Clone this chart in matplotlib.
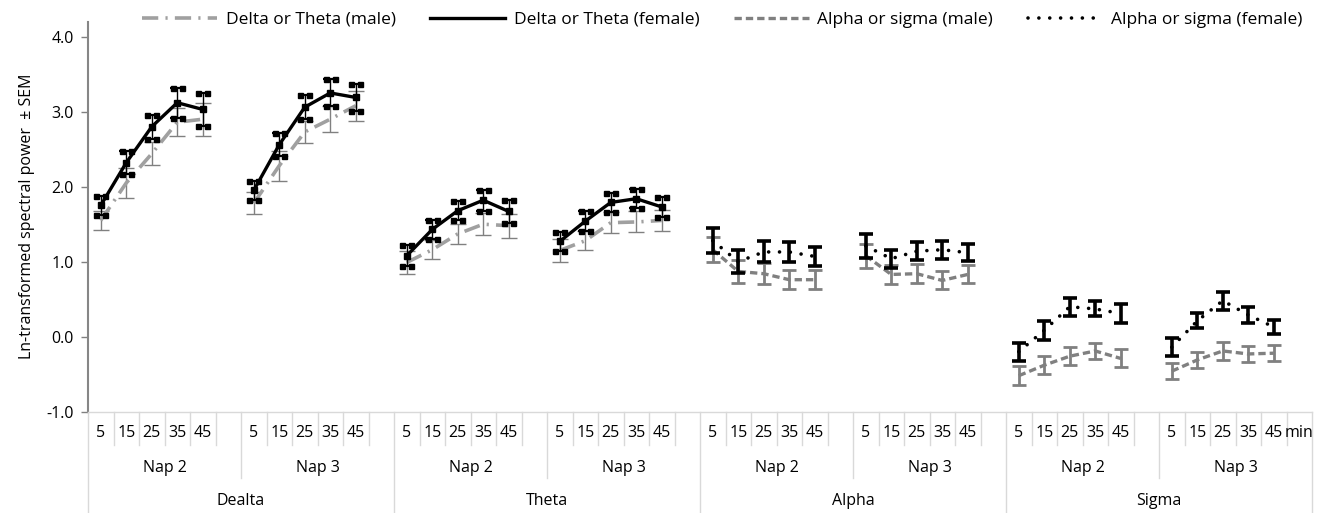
import numpy as np
import matplotlib
matplotlib.use("Agg")
import matplotlib.pyplot as plt
from matplotlib.transforms import blended_transform_factory
from matplotlib.lines import Line2D

plt.rcParams['font.family'] = ['Open Sans', 'DejaVu Sans']

# ---------------- data ----------------
minutes = ["5", "15", "25", "35", "45"]
naps = ["Nap 2", "Nap 3"]
bands = ["Dealta", "Theta", "Alpha", "Sigma"]
unit_label = "min"

# Delta / Theta groups: Dealta-Nap2, Dealta-Nap3, Theta-Nap2, Theta-Nap3
dt_male = [[1.55, 2.05, 2.44, 2.86, 2.90],
           [1.78, 2.28, 2.73, 2.90, 3.08],
           [0.99, 1.16, 1.37, 1.50, 1.48],
           [1.15, 1.28, 1.52, 1.53, 1.55]]
dt_male_sem = [[0.13, 0.20, 0.15, 0.19, 0.22],
               [0.15, 0.20, 0.15, 0.17, 0.20],
               [0.15, 0.13, 0.13, 0.15, 0.16],
               [0.15, 0.13, 0.14, 0.14, 0.14]]
dt_female = [[1.75, 2.32, 2.80, 3.12, 3.03],
             [1.95, 2.56, 3.06, 3.25, 3.19],
             [1.08, 1.43, 1.68, 1.82, 1.67],
             [1.27, 1.54, 1.79, 1.84, 1.73]]
dt_female_sem = [[0.13, 0.15, 0.16, 0.20, 0.22],
                 [0.13, 0.15, 0.16, 0.18, 0.18],
                 [0.14, 0.13, 0.13, 0.14, 0.15],
                 [0.13, 0.13, 0.13, 0.13, 0.13]]
# Alpha / Sigma groups: Alpha-Nap2, Alpha-Nap3, Sigma-Nap2, Sigma-Nap3
as_male = [[1.16, 0.87, 0.84, 0.76, 0.76],
           [1.08, 0.83, 0.84, 0.75, 0.83],
           [-0.52, -0.38, -0.26, -0.19, -0.29],
           [-0.46, -0.31, -0.19, -0.23, -0.22]]
as_male_sem = [[0.17, 0.15, 0.14, 0.13, 0.13],
               [0.16, 0.13, 0.13, 0.12, 0.12],
               [0.125, 0.12, 0.12, 0.11, 0.12],
               [0.11, 0.11, 0.12, 0.11, 0.11]]
as_female = [[1.28, 1.00, 1.13, 1.13, 1.07],
             [1.21, 1.04, 1.14, 1.16, 1.12],
             [-0.20, 0.085, 0.40, 0.37, 0.31],
             [-0.14, 0.21, 0.48, 0.29, 0.13]]
as_female_sem = [[0.17, 0.15, 0.14, 0.13, 0.13],
                 [0.16, 0.12, 0.12, 0.12, 0.11],
                 [0.12, 0.125, 0.12, 0.10, 0.13],
                 [0.12, 0.10, 0.12, 0.11, 0.09]]

series_labels = ["Delta or Theta (male)", "Delta or Theta (female)",
                 "Alpha or sigma (male)", "Alpha or sigma (female)"]

# ---------------- layout helpers ----------------
n_per_nap = len(minutes) + 1
n_groups = len(bands) * len(naps)
n_cat = n_groups * n_per_nap


def full_series(groups, first_group):
    arr = np.full(n_cat, np.nan)
    for k, vals in enumerate(groups):
        g = first_group + k
        arr[g * n_per_nap: g * n_per_nap + len(vals)] = vals
    return arr


x = np.arange(n_cat)
y_dtm = full_series(dt_male, 0); e_dtm = full_series(dt_male_sem, 0)
y_dtf = full_series(dt_female, 0); e_dtf = full_series(dt_female_sem, 0)
y_asm = full_series(as_male, 4); e_asm = full_series(as_male_sem, 4)
y_asf = full_series(as_female, 4); e_asf = full_series(as_female_sem, 4)

FS = 11.5
FS_LEG = 12.5

fig = plt.figure(figsize=(13.22, 5.13), dpi=100)
ax = fig.add_axes([88 / 1322, 1 - 411.7 / 513, 1224 / 1322, 390 / 513])

light_gray = '#A0A0A0'
mid_gray = '#808080'

# Delta/Theta male
ax.errorbar(x, y_dtm, yerr=e_dtm, fmt='none', ecolor=mid_gray, elinewidth=1.0,
            capsize=6, capthick=1.0, zorder=2)
ax.plot(x, y_dtm, color=light_gray, lw=2.6, dashes=[4.5, 2, 0.6, 2],
        label=series_labels[0], zorder=3)

# Delta/Theta female
ax.errorbar(x, y_dtf, yerr=e_dtf, fmt='none', ecolor='black', elinewidth=1.0,
            capsize=5, capthick=1.6, zorder=4)
for dx in (-0.17, 0.17):
    ax.plot(x + dx, y_dtf + e_dtf, ls='none', marker='s', ms=3.6, color='black', zorder=5)
    ax.plot(x + dx, y_dtf - e_dtf, ls='none', marker='s', ms=3.6, color='black', zorder=5)
ax.plot(x, y_dtf, color='black', lw=2.4, label=series_labels[1], zorder=5)
ax.plot(x, y_dtf, ls='none', marker='s', ms=4, color='black', zorder=6)

# Alpha/Sigma male
ax.errorbar(x, y_asm, yerr=e_asm, fmt='none', ecolor=mid_gray, elinewidth=2.0,
            capsize=5, capthick=2.0, zorder=2)
ax.plot(x, y_asm, color=mid_gray, lw=2.4, dashes=[2.2, 1.2],
        label=series_labels[2], zorder=3)

# Alpha/Sigma female
ax.errorbar(x, y_asf, yerr=e_asf, fmt='none', ecolor='black', elinewidth=2.6,
            capsize=5, capthick=2.6, zorder=4)
ax.plot(x, y_asf, color='black', lw=2.6, linestyle=(0, (0.01, 3.0)),
        dash_capstyle='round', label=series_labels[3], zorder=5)

# ---------------- axes styling ----------------
ax.set_xlim(-0.5, n_cat - 0.5)
ax.set_ylim(-1.0, 4.2)
ax.set_yticks([-1, 0, 1, 2, 3, 4])
ax.set_yticklabels([f"{v:.1f}" for v in [-1, 0, 1, 2, 3, 4]], fontsize=FS)
ax.tick_params(axis='y', length=5, width=1, color=mid_gray, pad=5)
ax.set_xticks([])
for s in ['top', 'right']:
    ax.spines[s].set_visible(False)
ax.spines['left'].set_color('#868686')
ax.spines['left'].set_linewidth(1.5)
ax.spines['bottom'].set_color('#D9D9D9')
ax.spines['bottom'].set_linewidth(1.0)
ax.set_ylabel("Ln-transformed spectral power  \u00b1 SEM", fontsize=FS, labelpad=8)

# multi-level category axis
tr = blended_transform_factory(ax.transData, ax.transAxes)
sep_col = '#D9D9D9'
h1, h2, h3 = -0.0854, -0.170, -0.262
for b in range(n_cat + 1):
    xb = b - 0.5
    if b % (2 * n_per_nap) == 0:
        bottom = h3
    elif b % n_per_nap == 0:
        bottom = h2
    else:
        bottom = h1
    ax.add_line(Line2D([xb, xb], [0, bottom], transform=tr, color=sep_col,
                       lw=1.0, clip_on=False))

for g in range(n_groups):
    for j, m in enumerate(minutes):
        ax.text(g * n_per_nap + j, -0.0554, m, transform=tr, ha='center',
                va='center', fontsize=FS)
    ax.text(g * n_per_nap + (n_per_nap - 1) / 2, -0.145, naps[g % 2], transform=tr,
            ha='center', va='center', fontsize=FS)
ax.text(n_cat - 1, -0.0554, unit_label, transform=tr, ha='center', va='center',
        fontsize=FS)
for bi, bname in enumerate(bands):
    ax.text(bi * 2 * n_per_nap + n_per_nap - 0.5, -0.228, bname, transform=tr,
            ha='center', va='center', fontsize=FS)

fig.legend(loc='upper center', bbox_to_anchor=(0.5465, 1.008), ncol=4,
           frameon=False, fontsize=FS_LEG, handlelength=4.3, columnspacing=2.0,
           handletextpad=0.5)

fig.savefig("out.png", dpi=100)
